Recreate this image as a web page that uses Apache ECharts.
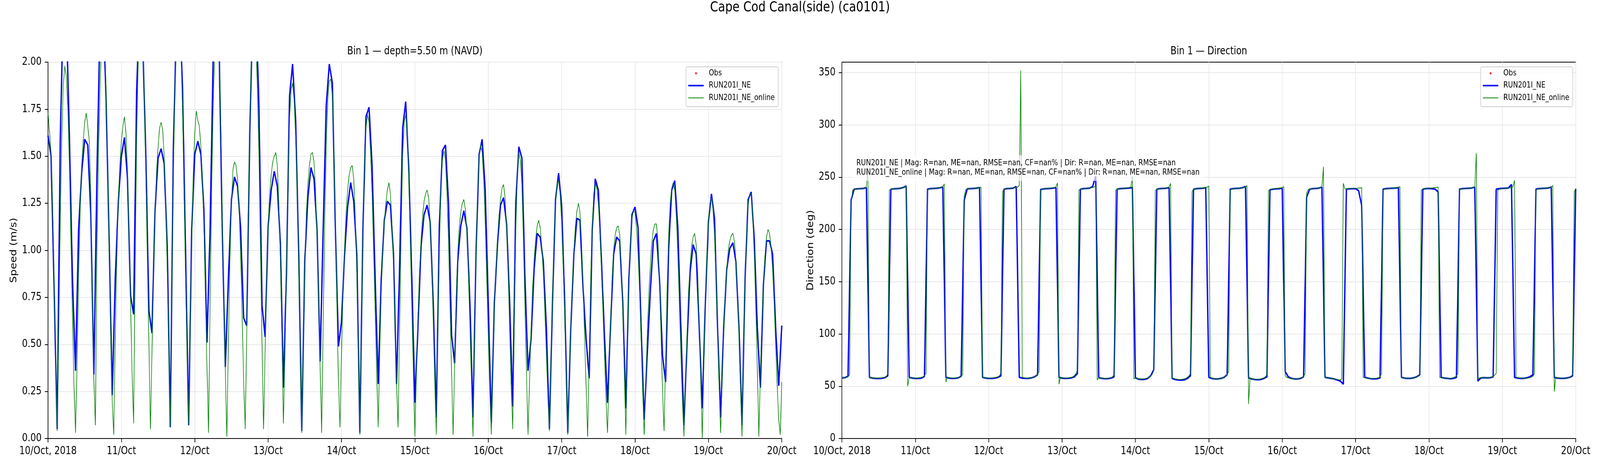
<!DOCTYPE html>
<html>
<head>
<meta charset="utf-8">
<title>Cape Cod Canal(side) (ca0101)</title>
<script src="https://cdn.jsdelivr.net/npm/echarts@6/dist/echarts.min.js"></script>
<style>
  html, body { margin: 0; padding: 0; background: #fff; overflow: hidden; }
  #frame { width: 100vw; height: 100vh; overflow: hidden; position: relative; }
  #chart { width: 5000px; height: 1200px; position: absolute; left: 0; top: 0; transform-origin: 0 0; }
</style>
</head>
<body>
<div id="frame"><div id="chart"></div></div>
<script>
// tick labels, one per day
const dayLabels = ['10/Oct, 2018', '11/Oct', '12/Oct', '13/Oct', '14/Oct', '15/Oct',
  '16/Oct', '17/Oct', '18/Oct', '19/Oct', '20/Oct'];
const dirTicks = [0, 50, 100, 150, 200, 250, 300, 350];

// RUN201I_NE speed (m/s), hourly from 10/Oct 00:00
const speedModel = [
  1.61, 1.50, 0.80, 0.05, 1.58, 2.30, 2.25, 1.60, 0.85, 0.36, 1.11, 1.41,
  1.59, 1.56, 1.19, 0.34, 1.40, 2.20, 2.30, 1.80, 1.05, 0.23, 0.85, 1.26,
  1.50, 1.60, 1.38, 0.76, 0.66, 1.85, 2.35, 2.10, 1.50, 0.68, 0.56, 1.21,
  1.49, 1.54, 1.46, 1.02, 0.06, 1.54, 2.20, 2.30, 1.86, 0.98, 0.07, 1.11,
  1.51, 1.58, 1.51, 1.21, 0.51, 1.10, 2.00, 2.25, 2.05, 1.11, 0.38, 0.85,
  1.27, 1.39, 1.34, 1.12, 0.64, 0.60, 1.63, 2.30, 2.30, 1.76, 0.71, 0.54,
  1.13, 1.32, 1.42, 1.34, 1.04, 0.27, 0.88, 1.82, 1.99, 1.69, 0.98, 0.04,
  0.95, 1.28, 1.44, 1.38, 1.11, 0.41, 1.11, 1.77, 1.99, 1.89, 1.11, 0.49,
  0.62, 0.98, 1.23, 1.36, 1.26, 0.98, 0.03, 1.11, 1.71, 1.76, 1.45, 0.85,
  0.29, 0.85, 1.16, 1.26, 1.24, 0.98, 0.29, 0.91, 1.65, 1.79, 1.43, 0.85,
  0.19, 0.59, 1.02, 1.19, 1.24, 1.15, 0.72, 0.11, 1.13, 1.53, 1.56, 1.25,
  0.55, 0.40, 0.94, 1.13, 1.21, 1.12, 0.72, 0.11, 0.99, 1.51, 1.59, 1.32,
  0.72, 0.08, 0.72, 1.03, 1.24, 1.28, 1.14, 0.72, 0.17, 1.25, 1.55, 1.49,
  0.85, 0.36, 0.53, 0.90, 1.09, 1.07, 0.94, 0.59, 0.05, 0.72, 1.27, 1.41,
  1.24, 0.72, 0.03, 0.59, 0.98, 1.17, 1.16, 0.80, 0.53, 0.32, 1.11, 1.38,
  1.32, 0.95, 0.55, 0.19, 0.60, 0.98, 1.07, 1.05, 0.72, 0.16, 0.85, 1.19,
  1.23, 1.12, 0.59, 0.10, 0.45, 0.78, 1.05, 1.09, 0.85, 0.44, 0.30, 1.01,
  1.32, 1.37, 1.12, 0.59, 0.07, 0.50, 0.88, 1.03, 0.98, 0.59, 0.16, 0.72,
  1.15, 1.30, 1.17, 0.59, 0.11, 0.59, 0.90, 1.01, 1.04, 0.94, 0.59, 0.07,
  0.85, 1.27, 1.31, 1.06, 0.59, 0.27, 0.82, 1.05, 1.05, 0.98, 0.59, 0.28,
  0.60
];

// RUN201I_NE_online speed (m/s), every 30 min from 10/Oct 00:00
const speedOnline = [
  1.73, 1.63, 1.52, 1.25, 0.85, 0.45, 0.04, 0.55, 1.15, 1.60, 1.88, 1.98,
  1.92, 1.75, 1.45, 1.05, 0.65, 0.28, 0.03, 0.40, 0.85, 1.20, 1.45, 1.58,
  1.68, 1.73, 1.66, 1.58, 1.30, 0.75, 0.30, 0.07, 1.00, 1.50, 1.85, 2.10,
  2.20, 2.15, 1.85, 1.45, 1.00, 0.55, 0.20, 0.02, 0.55, 0.95, 1.28, 1.45,
  1.58, 1.66, 1.71, 1.62, 1.42, 1.10, 0.72, 0.35, 0.08, 0.90, 1.60, 2.00,
  2.25, 2.30, 2.10, 1.80, 1.40, 0.95, 0.50, 0.05, 0.45, 0.85, 1.20, 1.42,
  1.55, 1.65, 1.68, 1.64, 1.50, 1.25, 0.90, 0.48, 0.06, 0.75, 1.40, 1.85,
  2.10, 2.25, 2.25, 2.05, 1.75, 1.30, 0.85, 0.42, 0.07, 0.55, 1.05, 1.40,
  1.62, 1.74, 1.69, 1.66, 1.55, 1.38, 1.12, 0.75, 0.38, 0.03, 0.70, 1.30,
  1.75, 2.05, 2.20, 2.20, 2.05, 1.70, 1.20, 0.75, 0.35, 0.01, 0.50, 0.95,
  1.25, 1.43, 1.47, 1.45, 1.38, 1.22, 0.98, 0.65, 0.30, 0.05, 0.55, 1.20,
  1.70, 2.00, 2.15, 2.20, 2.10, 1.85, 1.50, 1.00, 0.50, 0.05, 0.45, 0.85,
  1.12, 1.30, 1.40, 1.47, 1.50, 1.52, 1.45, 1.25, 0.95, 0.55, 0.08, 0.45,
  0.90, 1.35, 1.70, 1.85, 1.89, 1.80, 1.60, 1.30, 0.90, 0.45, 0.03, 0.50,
  0.92, 1.20, 1.35, 1.45, 1.51, 1.52, 1.47, 1.32, 1.08, 0.75, 0.38, 0.03,
  0.60, 1.15, 1.55, 1.80, 1.90, 1.91, 1.82, 1.55, 1.15, 0.70, 0.30, 0.06,
  0.45, 0.78, 1.02, 1.20, 1.32, 1.40, 1.44, 1.45, 1.38, 1.18, 0.88, 0.45,
  0.02, 0.55, 1.05, 1.45, 1.65, 1.72, 1.68, 1.52, 1.30, 1.00, 0.68, 0.35,
  0.06, 0.45, 0.78, 1.00, 1.15, 1.25, 1.32, 1.36, 1.30, 1.15, 0.92, 0.60,
  0.28, 0.06, 0.60, 1.10, 1.50, 1.68, 1.72, 1.62, 1.38, 1.05, 0.70, 0.35,
  0.01, 0.35, 0.65, 0.88, 1.05, 1.18, 1.26, 1.30, 1.32, 1.28, 1.15, 0.92,
  0.62, 0.30, 0.02, 0.55, 1.00, 1.32, 1.48, 1.53, 1.48, 1.30, 1.05, 0.70,
  0.35, 0.02, 0.40, 0.75, 0.98, 1.12, 1.20, 1.25, 1.27, 1.22, 1.10, 0.88,
  0.60, 0.30, 0.01, 0.50, 0.95, 1.30, 1.50, 1.56, 1.52, 1.38, 1.15, 0.85,
  0.55, 0.25, 0.02, 0.38, 0.68, 0.90, 1.06, 1.18, 1.27, 1.33, 1.35, 1.28,
  1.12, 0.88, 0.58, 0.28, 0.05, 0.60, 1.10, 1.40, 1.52, 1.48, 1.35, 1.05,
  0.70, 0.35, 0.02, 0.30, 0.58, 0.80, 0.95, 1.06, 1.13, 1.16, 1.12, 1.02,
  0.88, 0.68, 0.45, 0.22, 0.04, 0.40, 0.75, 1.05, 1.25, 1.35, 1.37, 1.30,
  1.15, 0.92, 0.65, 0.32, 0.02, 0.30, 0.58, 0.82, 1.00, 1.13, 1.21, 1.25,
  1.20, 1.05, 0.82, 0.55, 0.28, 0.01, 0.42, 0.85, 1.12, 1.30, 1.36, 1.33,
  1.25, 1.10, 0.90, 0.68, 0.45, 0.22, 0.03, 0.32, 0.60, 0.85, 1.00, 1.08,
  1.12, 1.13, 1.08, 0.92, 0.68, 0.35, 0.02, 0.45, 0.82, 1.05, 1.17, 1.21,
  1.20, 1.12, 0.98, 0.78, 0.52, 0.25, 0.02, 0.30, 0.55, 0.76, 0.92, 1.04,
  1.11, 1.14, 1.14, 1.05, 0.85, 0.55, 0.25, 0.04, 0.40, 0.80, 1.08, 1.25,
  1.33, 1.36, 1.32, 1.18, 0.98, 0.72, 0.45, 0.20, 0.01, 0.30, 0.55, 0.78,
  0.92, 1.02, 1.07, 1.09, 1.03, 0.88, 0.62, 0.30, 0.00, 0.38, 0.72, 0.98,
  1.15, 1.25, 1.28, 1.22, 1.08, 0.85, 0.58, 0.28, 0.03, 0.30, 0.55, 0.75,
  0.90, 1.00, 1.05, 1.08, 1.09, 1.05, 0.95, 0.78, 0.55, 0.28, 0.01, 0.45,
  0.82, 1.08, 1.24, 1.30, 1.30, 1.18, 0.98, 0.70, 0.38, 0.01, 0.35, 0.62,
  0.82, 0.97, 1.07, 1.11, 1.09, 1.02, 0.90, 0.72, 0.50, 0.28, 0.10, 0.02,
  0.30
];

// RUN201I_NE direction (deg), hourly
const dirModel = [
  58.0, 58.2, 59.5, 228, 238.5, 238.8, 239, 239.2, 240, 58.5, 57.8, 57.5,
  57.4, 57.6, 58.2, 60.0, 238.5, 238.8, 239, 239.3, 240, 241.5, 58.5, 57.8,
  57.5, 57.5, 57.8, 59.5, 238.5, 239, 239.2, 239.4, 239.8, 240.5, 58.6, 57.8,
  57.5, 57.6, 58.0, 59.5, 228, 238.8, 239, 239.2, 239.5, 240, 58.5, 57.8,
  57.5, 57.5, 57.8, 58.5, 60, 238.5, 239, 239.2, 239.5, 241, 58.5, 57.8,
  57.5, 57.6, 58, 59, 61, 238.2, 238.8, 239, 239.2, 239.5, 240, 58.5,
  57.8, 57.5, 57.6, 58, 59, 62, 238.5, 239, 239.2, 239.5, 241, 251,
  58.2, 57.6, 57.2, 57.3, 57.8, 59, 238.5, 239, 239.2, 239.4, 239.6, 240,
  58.0, 56.8, 56.5, 56.6, 57.5, 60, 66, 238.5, 239, 239.2, 239.4, 240,
  57.5, 56.5, 56, 55.8, 56.2, 57.5, 60, 238.5, 239, 239.2, 239.4, 240,
  58.5, 57.5, 57, 57, 57.5, 58.5, 61, 238.5, 239, 239.2, 239.4, 239.8,
  241, 58, 57, 56.5, 56.2, 56.5, 57.5, 59, 238, 238.5, 238.8, 239,
  239.5, 64, 59, 57.5, 57, 57, 57.5, 59, 231, 238.5, 239, 239.2,
  239.5, 240.5, 58.5, 58, 57.5, 57, 56, 55, 52, 238.5, 238.8, 239,
  239, 237, 223, 58.5, 57.8, 57.2, 57, 57.2, 58, 238.5, 239, 239.2,
  239.4, 239.6, 240, 58.5, 57.8, 57.5, 57.5, 58, 59, 61, 238.5, 239,
  239.2, 239, 238.5, 236, 58.5, 57.8, 57.5, 57.2, 57.5, 58.5, 238.5, 239,
  239.2, 239.4, 239.6, 240.5, 55, 58, 58.2, 58, 58.2, 59, 238.5, 239,
  239.2, 239.4, 239.6, 243, 58.5, 57.8, 57.5, 57.5, 58, 59, 61, 238.5,
  239, 239.2, 239.4, 239.6, 240.5, 58.5, 57.8, 57.6, 57.5, 57.8, 58.5, 60,
  239
];

// RUN201I_NE_online direction (deg), every 30 min
const dirOnline = [
  58.0, 58.0, 58.2, 58.5, 59.0, 61.0, 225, 237.5, 238.5, 238.8, 239, 239,
  239, 239.2, 239.3, 239.5, 240, 257, 58.5, 58.2, 58, 57.8, 57.8, 57.8,
  57.8, 58, 58, 58.2, 58.5, 59.2, 62, 237.5, 238.5, 238.8, 239, 239,
  239.2, 239.3, 239.5, 239.6, 240, 240.5, 242, 50, 58.5, 58.2, 58, 57.8,
  57.8, 57.8, 58, 58.2, 58.5, 59, 60, 62.5, 237.5, 238.5, 239, 239,
  239.2, 239.3, 239.5, 239.6, 240, 240.3, 241, 243.5, 54, 58.5, 58.2, 58,
  57.8, 57.8, 58, 58, 58.2, 58.5, 59.2, 61.5, 232, 238, 238.8, 239,
  239, 239.2, 239.3, 239.5, 239.6, 239.8, 240, 240.5, 58.5, 58.2, 58, 57.8,
  57.8, 57.8, 58, 58, 58.2, 58.5, 59, 60, 62.5, 236, 238.5, 238.8,
  239, 239.2, 239.3, 239.5, 239.6, 239.8, 240, 240.5, 242, 352, 58.5, 58.2,
  58, 57.8, 57.8, 58, 58.2, 58.5, 59, 60, 61.5, 64, 237.5, 238.5,
  238.8, 239, 239.2, 239.3, 239.5, 239.6, 239.8, 240, 240.5, 244.5, 52, 58.5,
  58.2, 58, 57.8, 57.8, 58, 58.2, 58.5, 59, 60, 62, 65, 237.5,
  238.5, 238.8, 239, 239.2, 239.3, 239.5, 239.6, 239.8, 240, 240.5, 242, 56,
  58.2, 58, 57.8, 57.6, 57.5, 57.5, 57.6, 57.8, 58.2, 59, 61, 237,
  238.5, 238.8, 239, 239.2, 239.3, 239.5, 239.6, 239.8, 240, 240.5, 251, 57,
  58, 57.5, 57.2, 57, 57, 57, 57.2, 57.5, 58, 58.5, 59.5, 61.5,
  65, 237, 238.5, 238.8, 239, 239.2, 239.3, 239.5, 239.6, 239.8, 240.5, 244,
  58, 57.5, 57, 56.8, 56.5, 56.5, 56.5, 56.8, 57, 57.5, 58.5, 60,
  62, 236, 238.5, 238.8, 239, 239.2, 239.3, 239.5, 239.6, 239.8, 240, 240.5,
  241.5, 58.5, 58, 57.5, 57.2, 57, 57, 57.2, 57.5, 58, 58.5, 59.5,
  61, 64, 237.5, 238.5, 238.8, 239, 239.2, 239.3, 239.5, 239.6, 239.8, 240,
  240.5, 242, 33, 58, 57.5, 57, 56.8, 56.5, 56.5, 56.8, 57, 57.5,
  58, 59, 61, 237, 238.2, 238.5, 238.8, 239, 239.2, 239.3, 239.5, 239.6,
  240, 241, 60, 58.5, 58, 57.5, 57.2, 57, 57, 57, 57.2, 57.5,
  58, 58.5, 59.5, 62, 235, 238, 238.5, 238.8, 239, 239.2, 239.3, 239.5,
  239.6, 240, 241, 260, 58.5, 58.2, 58, 57.8, 57.5, 57.2, 57, 56.8,
  56.5, 56.2, 56, 57, 244, 239, 238.8, 239, 239, 239.2, 239.2, 239.3,
  239.3, 239.4, 239.5, 239.6, 240, 58.5, 58.2, 58, 57.8, 57.5, 57.5, 57.5,
  57.5, 57.6, 57.8, 58.2, 59, 62, 237.5, 238.5, 238.8, 239, 239.2, 239.3,
  239.5, 239.6, 239.8, 240, 240.2, 241, 58.5, 58.2, 58, 57.8, 57.6, 57.5,
  57.5, 57.6, 57.8, 58.2, 58.8, 59.5, 62, 237.5, 238.5, 238.8, 239, 239.2,
  239.3, 239.5, 239.6, 239.8, 240, 240.2, 240.5, 58.5, 58.2, 58, 57.8, 57.6,
  57.5, 57.5, 57.6, 57.8, 58.2, 58.8, 59.8, 62.5, 238, 238.5, 238.8, 239,
  239.2, 239.3, 239.5, 239.6, 239.8, 240, 241, 273, 57, 58, 58.2, 58.2,
  58, 58, 58, 58.2, 58.5, 58.8, 59.5, 60.5, 62.5, 237.5, 238.5, 238.8,
  239, 239.2, 239.3, 239.5, 239.6, 239.8, 240, 241, 247, 58.5, 58.2, 58,
  57.8, 57.6, 57.5, 57.5, 57.6, 57.8, 58.2, 58.8, 59.5, 62, 237.5, 238.5,
  238.8, 239, 239.2, 239.3, 239.5, 239.6, 239.8, 240, 240.5, 242, 45, 58.5,
  58.2, 58, 57.8, 57.6, 57.5, 57.6, 57.8, 58.2, 58.8, 59.5, 61, 236,
  239
];

const obs = []; // no observations in this window

const statsLines = [
  'RUN201I_NE | Mag: R=nan, ME=nan, RMSE=nan, CF=nan% | Dir: R=nan, ME=nan, RMSE=nan',
  'RUN201I_NE_online | Mag: R=nan, ME=nan, RMSE=nan, CF=nan% | Dir: R=nan, ME=nan, RMSE=nan'
];

const modelStep = 1;    // hours
const onlineStep = 0.5; // hours

function pairs(values, step) {
  return values.map((v, i) => [i * step, v]);
}

// the chart is laid out on a 5000x1200 sheet, then fitted to the window
const chartEl = document.getElementById('chart');
const sx = window.innerWidth / 5000, sy = window.innerHeight / 1200;
chartEl.style.transform = 'scale(' + sx + ',' + sy + ')';

const FONT = 'DejaVu Sans';
const chart = echarts.init(chartEl, null, { renderer: 'canvas', width: 5000, height: 1200 });

function xAxisFor(gridIndex) {
  return {
    type: 'value', gridIndex: gridIndex, min: 0, max: 240, interval: 24,
    axisLine: { lineStyle: { color: '#000', width: 2 } },
    axisTick: { length: 10, lineStyle: { color: '#000', width: 2 } },
    axisLabel: {
      color: '#000', fontSize: 27.5, fontFamily: FONT, margin: 19,
      formatter: (v) => dayLabels[Math.round(v / 24)] || ''
    },
    splitLine: { show: true, lineStyle: { color: '#e8e8e8', width: 2 } }
  };
}

const legendItems = [
  { name: 'Obs', icon: 'circle', itemStyle: { color: '#ff0000' } },
  { name: 'RUN201I_NE', icon: 'path://M0 0H48V4H0Z', itemStyle: { color: '#0000ff' } },
  { name: 'RUN201I_NE_online', icon: 'path://M0 0H48V2H0Z', itemStyle: { color: '#008000' } }
];

function legendAt(rightPx) {
  return {
    data: legendItems, orient: 'vertical', align: 'left',
    right: rightPx, top: 171,
    padding: [6, 11, 12, 7],
    itemGap: 10.5, itemWidth: 48, itemHeight: 6, symbolKeepAspect: true,
    backgroundColor: 'rgba(255,255,255,0.8)',
    borderColor: '#cccccc', borderWidth: 2, borderRadius: 5,
    textStyle: { fontSize: 21, fontFamily: FONT, color: '#000', lineHeight: 21, padding: [0, 0, 0, 11] },
    selectedMode: false
  };
}

chart.setOption({
  animation: false,
  textStyle: { fontFamily: FONT },
  grid: [
    { left: 150, top: 159, width: 2293, height: 963, show: true, borderColor: '#000', borderWidth: 2 },
    { left: 2631, top: 159, width: 2293, height: 963, show: true, borderColor: '#000', borderWidth: 2 }
  ],
  xAxis: [xAxisFor(0), xAxisFor(1)],
  yAxis: [
    {
      type: 'value', gridIndex: 0, min: 0, max: 2, interval: 0.25,
      name: 'Speed (m/s)', nameLocation: 'middle', nameGap: 92, nameRotate: 90,
      nameTextStyle: { color: '#000', fontSize: 27.5, fontFamily: FONT },
      axisLine: { show: true, lineStyle: { color: '#000', width: 2 } },
      axisTick: { show: true, length: 10, lineStyle: { color: '#000', width: 2 } },
      axisLabel: { color: '#000', fontSize: 27.5, fontFamily: FONT, margin: 20, formatter: (v) => v.toFixed(2) },
      splitLine: { show: true, lineStyle: { color: '#e8e8e8', width: 2 } }
    },
    {
      type: 'value', gridIndex: 1, min: 0, max: 360, interval: 50,
      name: 'Direction (deg)', nameLocation: 'middle', nameGap: 83, nameRotate: 90,
      nameTextStyle: { color: '#000', fontSize: 27.5, fontFamily: FONT },
      axisLine: { show: true, lineStyle: { color: '#000', width: 2 } },
      axisTick: { show: true, length: 10, customValues: dirTicks, lineStyle: { color: '#000', width: 2 } },
      axisLabel: { color: '#000', fontSize: 27.5, fontFamily: FONT, margin: 20, customValues: dirTicks },
      splitLine: { show: true, lineStyle: { color: '#e8e8e8', width: 2 } }
    }
  ],
  legend: [legendAt(5000 - 2432), legendAt(5000 - 4915)],
  graphic: [
    {
      type: 'text', x: 2500, y: 20, z: 10,
      style: { text: 'Cape Cod Canal(side) (ca0101)', fill: '#000', font: '36px "DejaVu Sans"', align: 'center', verticalAlign: 'middle' }
    },
    {
      type: 'text', x: 1296.5, y: 132, z: 10,
      style: { text: 'Bin 1 \u2014 depth=5.50 m (NAVD)', fill: '#000', font: '27.5px "DejaVu Sans"', align: 'center', verticalAlign: 'middle' }
    },
    {
      type: 'text', x: 3777.5, y: 132, z: 10,
      style: { text: 'Bin 1 \u2014 Direction', fill: '#000', font: '27.5px "DejaVu Sans"', align: 'center', verticalAlign: 'middle' }
    },
    {
      type: 'text', x: 2665, y: 397, z: 10,
      style: {
        text: statsLines.join('\n'), fill: '#000', font: '21px "DejaVu Sans"', lineHeight: 24,
        backgroundColor: 'rgba(255,255,255,0.7)', padding: [9, 11, 9, 11]
      }
    }
  ],
  series: [
    { name: 'Obs', type: 'scatter', xAxisIndex: 0, yAxisIndex: 0, data: obs, symbolSize: 6, itemStyle: { color: '#ff0000' } },
    {
      name: 'RUN201I_NE', type: 'line', xAxisIndex: 0, yAxisIndex: 0, data: pairs(speedModel, modelStep),
      showSymbol: false, symbol: 'none', color: '#0000ff', lineStyle: { color: '#0000ff', width: 4.2 }
    },
    {
      name: 'RUN201I_NE_online', type: 'line', xAxisIndex: 0, yAxisIndex: 0, data: pairs(speedOnline, onlineStep),
      showSymbol: false, symbol: 'none', color: '#008000', lineStyle: { color: '#008000', width: 1.9 }
    },
    { name: 'Obs', type: 'scatter', xAxisIndex: 1, yAxisIndex: 1, data: obs, symbolSize: 6, itemStyle: { color: '#ff0000' } },
    {
      name: 'RUN201I_NE', type: 'line', xAxisIndex: 1, yAxisIndex: 1, data: pairs(dirModel, modelStep),
      showSymbol: false, symbol: 'none', color: '#0000ff', lineStyle: { color: '#0000ff', width: 4.2 }
    },
    {
      name: 'RUN201I_NE_online', type: 'line', xAxisIndex: 1, yAxisIndex: 1, data: pairs(dirOnline, onlineStep),
      showSymbol: false, symbol: 'none', color: '#008000', lineStyle: { color: '#008000', width: 1.9 }
    }
  ]
});
</script>
</body>
</html>
